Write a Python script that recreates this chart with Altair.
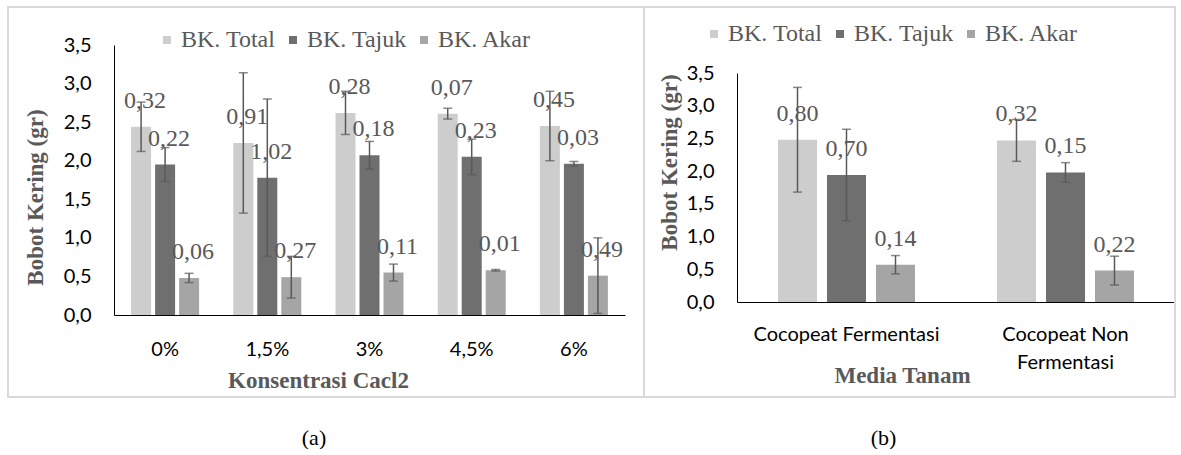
import altair as alt
import pandas as pd

# Series shared by both panels
series = ["BK. Total", "BK. Tajuk", "BK. Akar"]
series_fill = ["#cdcdcd", "#6f6f6f", "#a5a5a5"]

# (a) dry weight by CaCl2 concentration
conc_cats = ["0%", "1,5%", "3%", "4,5%", "6%"]
conc_total = [2.44, 2.23, 2.62, 2.61, 2.45]
conc_total_err = [0.32, 0.91, 0.28, 0.07, 0.45]
conc_tajuk = [1.95, 1.78, 2.07, 2.05, 1.96]
conc_tajuk_err = [0.22, 1.02, 0.18, 0.23, 0.03]
conc_akar = [0.48, 0.49, 0.55, 0.58, 0.51]
conc_akar_err = [0.06, 0.27, 0.11, 0.01, 0.49]

# (b) dry weight by growing medium
media_cats = ["Cocopeat Fermentasi", "Cocopeat Non Fermentasi"]
media_total = [2.48, 2.47]
media_total_err = [0.80, 0.32]
media_tajuk = [1.94, 1.98]
media_tajuk_err = [0.70, 0.15]
media_akar = [0.57, 0.48]
media_akar_err = [0.14, 0.22]

y_ticks = [0, 0.5, 1, 1.5, 2, 2.5, 3, 3.5]
captions = ["(a)", "(b)"]

NUM_FONT = "Lato"
SERIF = "Liberation Serif"
GREY = "#595959"
BORDER = "#d9d9d9"
COMMA = "replace(format(datum.value, '.1f'), '.', ',')"


def long_table(cats, vals, errs):
    rows = []
    for s, vlist, elist in zip(series, vals, errs):
        for c, v, e in zip(cats, vlist, elist):
            rows.append({
                "cat": c, "series": s, "value": v,
                "lo": v - e, "hi": v + e,
                "label": f"{e:.2f}".replace(".", ","),
            })
    return pd.DataFrame(rows)


def panel(df, cats, *, width, height, y_range, x_pad, off_pad, x_title,
          x_title_xy, y_title_xy, legend_xy, label_expr, border, caption,
          caption_dx, label_dx, x_label_pad, x_line_h):
    y_scale = alt.Scale(domain=[0, 3.5], nice=False, zero=True)
    if y_range is not None:
        y_scale = alt.Scale(domain=[0, 3.5], nice=False, zero=True, range=y_range)
    y_axis = alt.Axis(
        values=y_ticks, labelExpr=COMMA, title="Bobot Kering (gr)",
        ticks=False, tickSize=0, grid=False, domainColor="#000000", domainWidth=1,
        labelFont=NUM_FONT, labelFontSize=20, labelColor="#000000", labelPadding=23,
        titleFont=SERIF, titleFontSize=23, titleFontWeight="bold", titleColor=GREY,
        titleAngle=270, titleAlign="center", titleBaseline="alphabetic",
        titleX=y_title_xy[0], titleY=y_title_xy[1],
    )
    x_axis = alt.Axis(
        title=x_title, ticks=False, tickSize=0, grid=False, domainColor="#000000",
        domainWidth=1, labelAngle=0, labelFont=NUM_FONT, labelFontSize=20,
        labelColor="#000000", labelPadding=x_label_pad, labelBaseline="top",
        labelLimit=400, labelOverlap=False, labelFlush=False, labelExpr=label_expr,
        labelLineHeight=x_line_h,
        titleFont=SERIF, titleFontSize=23, titleFontWeight="bold", titleColor=GREY,
        titleAlign="center", titleBaseline="alphabetic",
        titleX=x_title_xy[0], titleY=x_title_xy[1],
    )
    x = alt.X("cat:N", sort=cats, axis=x_axis,
              scale=alt.Scale(paddingInner=x_pad, paddingOuter=x_pad / 2))
    xo = alt.XOffset("series:N", sort=series,
                     scale=alt.Scale(paddingInner=off_pad, paddingOuter=0))

    def y(field):
        return alt.Y(f"{field}:Q", scale=y_scale, axis=y_axis)

    base = alt.Chart(df)
    bars = base.mark_bar().encode(
        x=x, xOffset=xo, y=y("value"),
        color=alt.Color(
            "series:N", sort=series,
            scale=alt.Scale(domain=series, range=series_fill),
            legend=alt.Legend(
                orient="none", legendX=legend_xy[0], legendY=legend_xy[1],
                direction="horizontal", title=None, symbolType="square",
                symbolSize=64, symbolStrokeWidth=0, labelFont=SERIF,
                labelFontSize=24, labelColor=GREY, labelOffset=2,
                columnPadding=5, padding=0,
            ),
        ),
    )
    whisker = base.mark_rule(color=GREY, strokeWidth=1.5).encode(
        x=x, xOffset=xo, y=y("lo"), y2="hi:Q")
    cap_lo = base.mark_tick(color=GREY, thickness=1.5, size=9, orient="horizontal").encode(
        x=x, xOffset=xo, y=y("lo"))
    cap_hi = base.mark_tick(color=GREY, thickness=1.5, size=9, orient="horizontal").encode(
        x=x, xOffset=xo, y=y("hi"))
    labels = base.mark_text(
        font=SERIF, fontSize=24, color=GREY, baseline="middle", dy=-26, dx=label_dx
    ).encode(x=x, xOffset=xo, y=y("value"), text="label:N")

    frame = alt.Chart(pd.DataFrame({"k": [0]})).mark_rect(
        fill=None, stroke=BORDER, strokeWidth=2
    ).encode(
        x=alt.value(border[0]), x2=alt.value(border[1]),
        y=alt.value(border[2]), y2=alt.value(border[3]),
    )

    return alt.layer(frame, bars, whisker, cap_lo, cap_hi, labels).properties(
        width=width, height=height,
        title=alt.TitleParams(
            caption, orient="bottom", anchor="middle", frame="bounds",
            font=SERIF, fontSize=22, fontWeight="normal", color="#000000",
            offset=30, dx=caption_dx,
        ),
    )


left = panel(
    long_table(conc_cats, [conc_total, conc_tajuk, conc_akar],
               [conc_total_err, conc_tajuk_err, conc_akar_err]),
    conc_cats, width=511, height=270, y_range=None,
    x_pad=1 - 68 / 102.2, off_pad=4 / 24,
    x_title="Konsentrasi Cacl2", x_title_xy=(204, 72), y_title_xy=(-72, 152),
    legend_xy=(41, -17), label_expr="datum.label",
    border=(-106, 530, -38, 352), caption=captions[0], caption_dx=-12,
    label_dx=4, x_label_pad=24, x_line_h=28,
)

right = panel(
    long_table(media_cats, [media_total, media_tajuk, media_akar],
               [media_total_err, media_tajuk_err, media_akar_err]),
    media_cats, width=438, height=257, y_range=[257, 28],
    x_pad=1 - 137 / 219, off_pad=10 / 49,
    x_title="Media Tanam", x_title_xy=(165, 80), y_title_xy=(-61, 117),
    legend_xy=(-35, -23),
    label_expr="datum.label == 'Cocopeat Non Fermentasi' ? ['Cocopeat Non', 'Fermentasi'] : datum.label",
    border=(-93, 438, -38, 352), caption=captions[1], caption_dx=-26,
    label_dx=0, x_label_pad=22, x_line_h=28,
)

chart = alt.hconcat(left, right, spacing=-2).resolve_scale(
    x="independent", y="independent", xOffset="independent", color="independent"
).resolve_legend(color="independent").properties(
    padding={"left": 7, "top": 6, "right": 0, "bottom": 0},
    background="#ffffff",
).configure_view(stroke=None)

chart.save("out.html", embed_options={"renderer": "svg", "actions": False})
